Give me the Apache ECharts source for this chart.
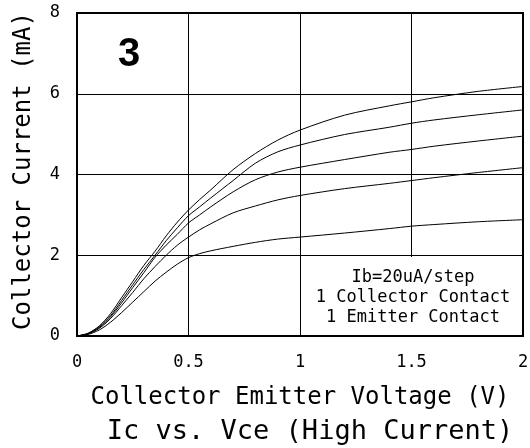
<!DOCTYPE html>
<html>
<head>
<meta charset="utf-8">
<script src="https://cdn.jsdelivr.net/npm/echarts@6/dist/echarts.min.js"></script>
<style>
  html, body { margin: 0; padding: 0; background: #fff; }
  #chart { width: 530px; height: 448px; }
</style>
</head>
<body>
<div id="chart"></div>
<script>
// Vce (V)
const vce = [0, 0.05, 0.1, 0.15, 0.2, 0.25, 0.3, 0.35, 0.4, 0.45, 0.5, 0.55, 0.6, 0.7, 0.8, 0.9, 1.0, 1.2, 1.4, 1.5, 1.6, 1.8, 2.0]
// Ic (mA), one array per base current step, lowest first
const ic1 = [0, 0.04, 0.15, 0.34, 0.58, 0.84, 1.1, 1.36, 1.58, 1.78, 1.94, 2.04, 2.11, 2.22, 2.32, 2.4, 2.45, 2.55, 2.66, 2.72, 2.76, 2.83, 2.88]
const ic2 = [0, 0.05, 0.19, 0.43, 0.75, 1.08, 1.42, 1.72, 2.0, 2.25, 2.45, 2.63, 2.78, 3.05, 3.22, 3.37, 3.48, 3.65, 3.78, 3.85, 3.92, 4.05, 4.17]
const ic3 = [0, 0.06, 0.21, 0.47, 0.82, 1.2, 1.57, 1.95, 2.25, 2.52, 2.8, 3.0, 3.2, 3.57, 3.87, 4.06, 4.18, 4.37, 4.55, 4.62, 4.7, 4.83, 4.95]
const ic4 = [0, 0.06, 0.23, 0.5, 0.88, 1.27, 1.65, 2.0, 2.36, 2.68, 2.98, 3.2, 3.42, 3.85, 4.28, 4.56, 4.73, 4.99, 5.17, 5.27, 5.35, 5.48, 5.6]
const ic5 = [0, 0.07, 0.25, 0.55, 0.95, 1.35, 1.75, 2.1, 2.48, 2.82, 3.12, 3.38, 3.62, 4.12, 4.52, 4.85, 5.1, 5.47, 5.7, 5.8, 5.9, 6.06, 6.18]
const curves = [ic1, ic2, ic3, ic4, ic5]

const xTicks = [0, 0.5, 1, 1.5, 2]
const yTicks = [0, 2, 4, 6, 8]
const noteLines = ['Ib=20uA/step', '1 Collector Contact', '1 Emitter Contact']

const mono = 'DejaVu Sans Mono'
const chart = echarts.init(document.getElementById('chart'))

const series = curves.map(function (ys) {
  return {
    type: 'line',
    data: vce.map(function (v, i) { return [v, ys[i]] }),
    smooth: 0.3,
    showSymbol: false,
    lineStyle: { color: '#000', width: 1 },
    z: 3
  }
})

chart.setOption({
  animation: false,
  title: {
    text: 'Ic vs. Vce (High Current)',
    left: 305,
    top: 413,
    textAlign: 'center',
    textStyle: { fontFamily: mono, fontSize: 27, fontWeight: 'normal', color: '#000' }
  },
  grid: {
    left: 77, right: 7, top: 13, bottom: 112,
    outerBoundsMode: 'none',
    show: true,
    borderColor: '#000',
    borderWidth: 2,
    backgroundColor: 'transparent'
  },
  xAxis: {
    type: 'value',
    min: 0, max: 2, interval: 0.5,
    name: 'Collector Emitter Voltage (V)',
    nameLocation: 'middle',
    nameGap: 50,
    nameTextStyle: { fontFamily: mono, fontSize: 24, color: '#000' },
    axisLine: { show: false },
    axisTick: { show: false },
    splitLine: { lineStyle: { color: '#000', width: 1 } },
    axisLabel: {
      fontFamily: mono, fontSize: 17, color: '#000', margin: 18,
      formatter: function (v) { return xTicks.indexOf(v) >= 0 ? String(v) : '' }
    }
  },
  yAxis: {
    type: 'value',
    min: 0, max: 8, interval: 2,
    axisLine: { show: false },
    axisTick: { show: false },
    splitLine: { lineStyle: { color: '#000', width: 1 } },
    axisLabel: {
      fontFamily: mono, fontSize: 17, color: '#000', margin: 17,
      formatter: function (v) { return yTicks.indexOf(v) >= 0 ? String(v) : '' }
    }
  },
  graphic: [
    {
      type: 'text',
      x: 24, y: 171,
      rotation: Math.PI / 2,
      style: {
        text: 'Collector Current (mA)',
        fontFamily: mono, fontSize: 24,
        fill: '#000', align: 'center', verticalAlign: 'middle'
      }
    },
    {
      type: 'rect',
      shape: { x: 302, y: 257, width: 220, height: 78 },
      style: { fill: '#fff' },
      z: 2
    },
    {
      type: 'text',
      x: 413, y: 298,
      style: {
        text: noteLines.join('\n'),
        fontFamily: mono, fontSize: 17, lineHeight: 20,
        fill: '#000', align: 'center', verticalAlign: 'middle'
      },
      z: 4
    },
    {
      type: 'text',
      x: 129, y: 55,
      style: {
        text: '3',
        fontFamily: 'Liberation Sans', fontWeight: 'bold', fontSize: 40,
        fill: '#000', align: 'center', verticalAlign: 'middle'
      },
      z: 4
    }
  ],
  series: series
})
</script>
</body>
</html>
